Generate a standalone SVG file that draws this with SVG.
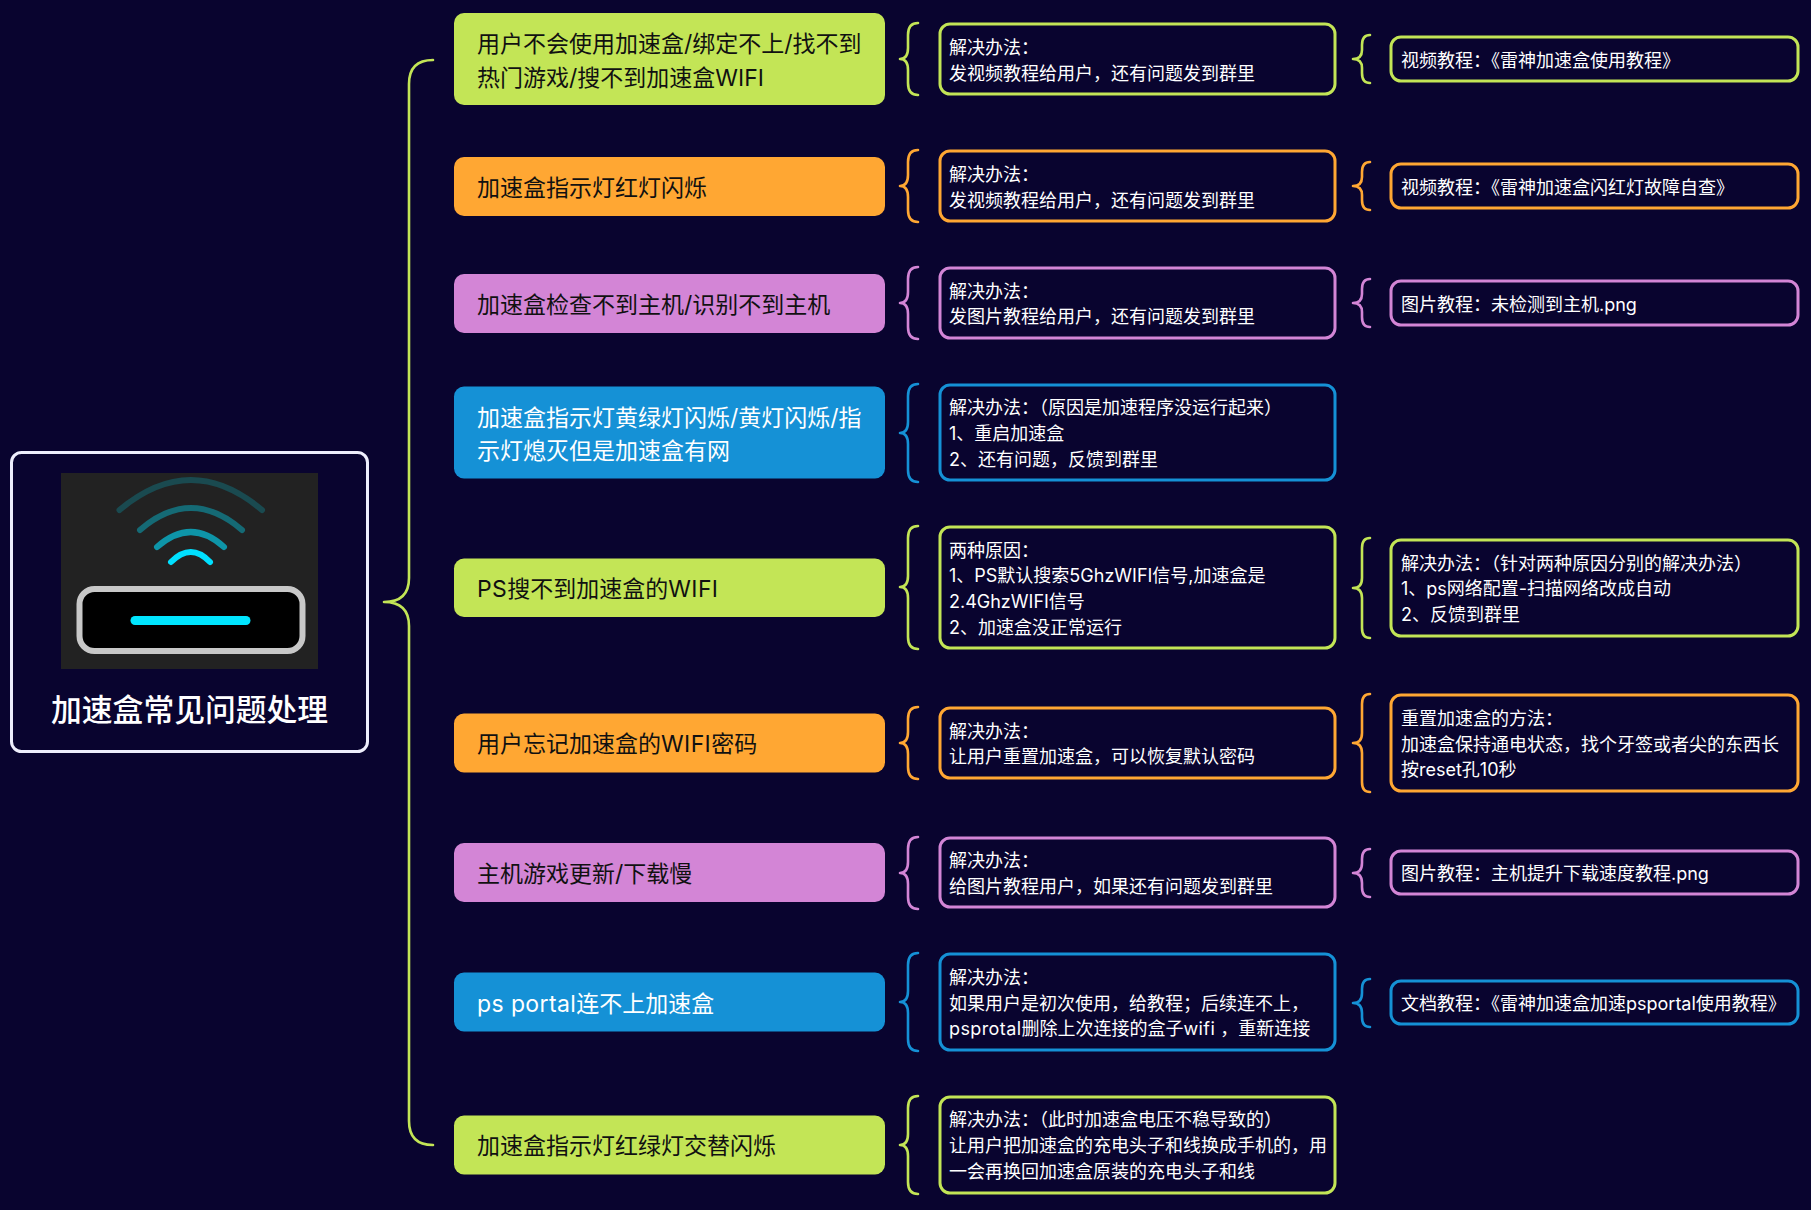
<svg xmlns="http://www.w3.org/2000/svg" width="1811" height="1210" viewBox="0 0 1811 1210">
<style>
text{font-family:"Inter","Noto Sans CJK SC",sans-serif}
.t{font-size:23px;fill:#111}
.tw{font-size:23px;fill:#fff}
.s{font-size:18px;fill:#fff}
.la{letter-spacing:.4px}
.b{fill:none;stroke-width:2.600;stroke-linecap:round;stroke-linejoin:round}
.box{fill:#09042f;stroke-width:3}
.g{stroke:#c3e556}.o{stroke:#ffa733}.p{stroke:#d385d6}.l{stroke:#1591d6}
.fg{fill:#c3e556}.fo{fill:#ffa733}.fp{fill:#d385d6}.fl{fill:#1591d6}
.arc{fill:none;stroke-width:6;stroke-linecap:round}
</style>
<rect width="1811" height="1210" fill="#09042f"/>
<g id="connectors">
<path class="b g" d="M433 60Q409 60 409 84V578Q409 602 384 602Q409 602 409 626V1121Q409 1145 433 1145"/>
<path class="b g" d="M918 23Q908 23 908 35V48Q908 59 900 59Q908 59 908 70V83Q908 95 918 95"/>
<path class="b o" d="M918 150Q908 150 908 162V175Q908 186 900 186Q908 186 908 197V210Q908 222 918 222"/>
<path class="b p" d="M918 267Q908 267 908 279V292Q908 303 900 303Q908 303 908 314V327Q908 339 918 339"/>
<path class="b l" d="M918 384Q908 384 908 396V422Q908 433 900 433Q908 433 908 444V470Q908 482 918 482"/>
<path class="b g" d="M918 526Q908 526 908 538V576Q908 587 900 587Q908 587 908 598V637Q908 649 918 649"/>
<path class="b o" d="M918 707Q908 707 908 719V732Q908 743 900 743Q908 743 908 754V767Q908 779 918 779"/>
<path class="b p" d="M918 837Q908 837 908 849V862Q908 873 900 873Q908 873 908 884V897Q908 909 918 909"/>
<path class="b l" d="M918 953Q908 953 908 965V991Q908 1002 900 1002Q908 1002 908 1013V1039Q908 1051 918 1051"/>
<path class="b g" d="M918 1096Q908 1096 908 1108V1134Q908 1145 900 1145Q908 1145 908 1156V1182Q908 1194 918 1194"/>
<path class="b g" d="M1370 35Q1362 35 1362 45V50Q1362 59 1353 59Q1362 59 1362 68V73Q1362 83 1370 83"/>
<path class="b o" d="M1370 162Q1362 162 1362 172V177Q1362 186 1353 186Q1362 186 1362 195V200Q1362 210 1370 210"/>
<path class="b p" d="M1370 279Q1362 279 1362 289V294Q1362 303 1353 303Q1362 303 1362 312V317Q1362 327 1370 327"/>
<path class="b g" d="M1370 538Q1362 538 1362 548V578Q1362 588 1353 588Q1362 588 1362 598V628Q1362 638 1370 638"/>
<path class="b o" d="M1370 694Q1362 694 1362 704V733Q1362 743 1353 743Q1362 743 1362 753V782Q1362 792 1370 792"/>
<path class="b p" d="M1370 849Q1362 849 1362 859V863Q1362 873 1353 873Q1362 873 1362 883V887Q1362 897 1370 897"/>
<path class="b l" d="M1370 979Q1362 979 1362 989V993Q1362 1003 1353 1003Q1362 1003 1362 1013V1017Q1362 1027 1370 1027"/>
</g>
<g id="root">
<rect x="11.500" y="452.500" width="356" height="299" rx="10" fill="#09042f" stroke="#eeeefc" stroke-width="3"/>
<rect x="61" y="473" width="257" height="196" fill="#222"/>
<path class="arc" stroke="#1a4a50" d="M119.500 510Q191 450 262 510"/>
<path class="arc" stroke="#156a75" d="M140 530Q191 486 242 530"/>
<path class="arc" stroke="#0e95a8" d="M157 547Q191 517 224 547"/>
<path class="arc" stroke="#00e0ff" d="M171 562Q191 542 210 562"/>
<rect x="79.500" y="589" width="223" height="62" rx="15" fill="#000" stroke="#c8c8c8" stroke-width="6"/>
<rect x="130.500" y="616" width="120" height="9" rx="4.500" fill="#00e5ff"/>
<text x="51" y="721" font-size="30.800" font-weight="500" fill="#fff">加速盒常见问题处理</text>
</g>
<g id="t1"><rect class="fg" x="454" y="13" width="431" height="92" rx="10"/><text class="t" x="477" y="51.500">用户不会使用加速盒/绑定不上/找不到</text><text class="t" x="477" y="86">热门游戏/搜不到加速盒WIFI</text></g>
<g id="s1"><rect class="box g" x="940" y="24" width="395" height="70" rx="10"/><text class="s" x="949" y="54">解决办法：</text><text class="s" x="949" y="80">发视频教程给用户，还有问题发到群里</text></g>
<g id="r1"><rect class="box g" x="1391" y="37" width="407" height="44" rx="10"/><text class="s" x="1401" y="67">视频教程：《雷神加速盒使用教程》</text></g>
<g id="t2"><rect class="fo" x="454" y="157" width="431" height="59" rx="10"/><text class="t" x="477" y="195.500">加速盒指示灯红灯闪烁</text></g>
<g id="s2"><rect class="box o" x="940" y="151" width="395" height="70" rx="10"/><text class="s" x="949" y="181">解决办法：</text><text class="s" x="949" y="207">发视频教程给用户，还有问题发到群里</text></g>
<g id="r2"><rect class="box o" x="1391" y="164" width="407" height="44" rx="10"/><text class="s" x="1401" y="194">视频教程：《雷神加速盒闪红灯故障自查》</text></g>
<g id="t3"><rect class="fp" x="454" y="274" width="431" height="59" rx="10"/><text class="t" x="477" y="313">加速盒检查不到主机/识别不到主机</text></g>
<g id="s3"><rect class="box p" x="940" y="268" width="395" height="70" rx="10"/><text class="s" x="949" y="298">解决办法：</text><text class="s" x="949" y="323">发图片教程给用户，还有问题发到群里</text></g>
<g id="r3"><rect class="box p" x="1391" y="281" width="407" height="44" rx="10"/><text class="s" x="1401" y="311">图片教程：未检测到主机.png</text></g>
<g id="t4"><rect class="fl" x="454" y="386.500" width="431" height="92" rx="10"/><text class="tw" x="477" y="426">加速盒指示灯黄绿灯闪烁/黄灯闪烁/指</text><text class="tw" x="477" y="459">示灯熄灭但是加速盒有网</text></g>
<g id="s4"><rect class="box l" x="940" y="385" width="395" height="95" rx="10"/><text class="s" x="949" y="414">解决办法：（原因是加速程序没运行起来）</text><text class="s" x="949" y="440">1、重启加速盒</text><text class="s" x="949" y="466">2、还有问题，反馈到群里</text></g>
<g id="t5"><rect class="fg" x="454" y="558.500" width="431" height="58.500" rx="10"/><text class="t" x="477" y="597"><tspan class="la">PS</tspan>搜不到加速盒的<tspan class="la">WIFI</tspan></text></g>
<g id="s5"><rect class="box g" x="940" y="527" width="395" height="121" rx="10"/><text class="s" x="949" y="557">两种原因：</text><text class="s" x="949" y="582">1、PS默认搜索5GhzWIFI信号,加速盒是</text><text class="s" x="949" y="608">2.4GhzWIFI信号</text><text class="s" x="949" y="634">2、加速盒没正常运行</text></g>
<g id="r5"><rect class="box g" x="1391" y="540" width="407" height="96" rx="10"/><text class="s" x="1401" y="570">解决办法：（针对两种原因分别的解决办法）</text><text class="s" x="1401" y="595">1、ps网络配置-扫描网络改成自动</text><text class="s" x="1401" y="621">2、反馈到群里</text></g>
<g id="t6"><rect class="fo" x="454" y="713.500" width="431" height="59" rx="10"/><text class="t" x="477" y="752">用户忘记加速盒的<tspan class="la">WIFI</tspan>密码</text></g>
<g id="s6"><rect class="box o" x="940" y="708" width="395" height="70" rx="10"/><text class="s" x="949" y="738">解决办法：</text><text class="s" x="949" y="763">让用户重置加速盒，可以恢复默认密码</text></g>
<g id="r6"><rect class="box o" x="1391" y="695" width="407" height="96" rx="10"/><text class="s" x="1401" y="725">重置加速盒的方法：</text><text class="s" x="1401" y="751">加速盒保持通电状态，找个牙签或者尖的东西长</text><text class="s" x="1401" y="776">按reset孔10秒</text></g>
<g id="t7"><rect class="fp" x="454" y="843" width="431" height="59" rx="10"/><text class="t" x="477" y="882">主机游戏更新/下载慢</text></g>
<g id="s7"><rect class="box p" x="940" y="838" width="395" height="69" rx="10"/><text class="s" x="949" y="867">解决办法：</text><text class="s" x="949" y="893">给图片教程用户，如果还有问题发到群里</text></g>
<g id="r7"><rect class="box p" x="1391" y="851" width="407" height="43" rx="10"/><text class="s" x="1401" y="880">图片教程：主机提升下载速度教程.png</text></g>
<g id="t8"><rect class="fl" x="454" y="972.500" width="431" height="59" rx="10"/><text class="tw" x="477" y="1012"><tspan class="la">ps portal</tspan>连不上加速盒</text></g>
<g id="s8"><rect class="box l" x="940" y="954" width="395" height="96" rx="10"/><text class="s" x="949" y="984">解决办法：</text><text class="s" x="949" y="1010">如果用户是初次使用，给教程；后续连不上，</text><text class="s" x="949" y="1035"><tspan class="la">psprotal</tspan>删除上次连接的盒子<tspan class="la">wifi</tspan> ，重新连接</text></g>
<g id="r8"><rect class="box l" x="1391" y="981" width="407" height="43" rx="10"/><text class="s" x="1401" y="1010">文档教程：《雷神加速盒加速psportal使用教程》</text></g>
<g id="t9"><rect class="fg" x="454" y="1115.500" width="431" height="59" rx="10"/><text class="t" x="477" y="1154">加速盒指示灯红绿灯交替闪烁</text></g>
<g id="s9"><rect class="box g" x="940" y="1097" width="395" height="96" rx="10"/><text class="s" x="949" y="1126">解决办法：（此时加速盒电压不稳导致的）</text><text class="s" x="949" y="1152">让用户把加速盒的充电头子和线换成手机的，用</text><text class="s" x="949" y="1178">一会再换回加速盒原装的充电头子和线</text></g>
</svg>
